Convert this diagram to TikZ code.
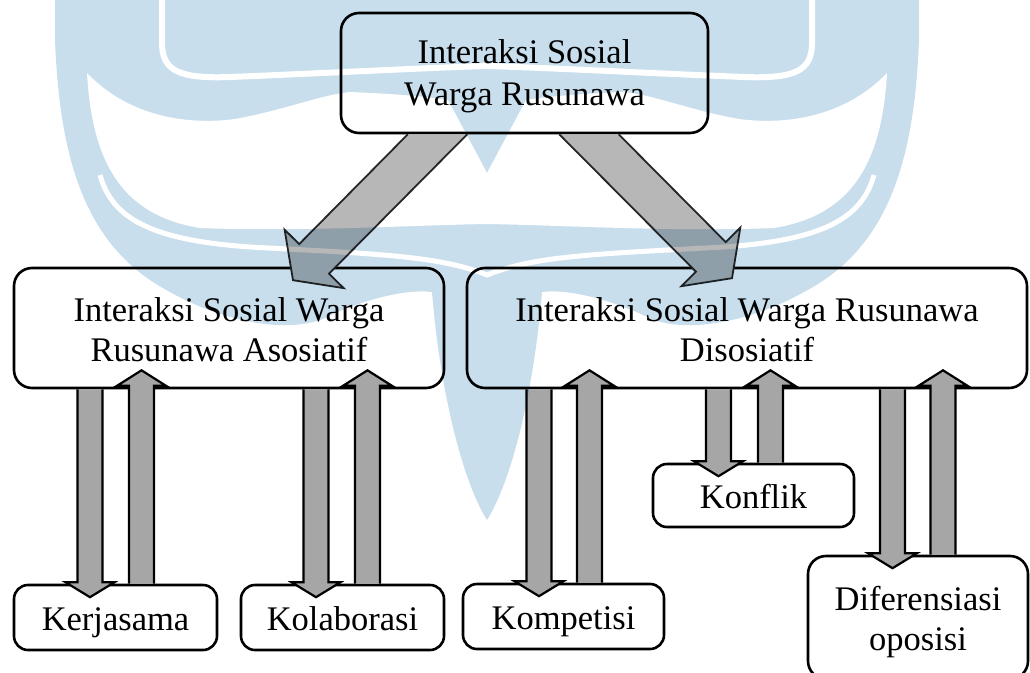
\documentclass[tikz,border=0pt]{standalone}
\usepackage{fontspec}
\setmainfont{Liberation Serif}
\usetikzlibrary{calc}
\definecolor{wm}{RGB}{200,222,237}
\definecolor{vgray}{RGB}{166,166,166}
\definecolor{dgray}{RGB}{183,183,183}
\tikzset{
  box/.style={draw=black, fill=white, line width=2.6pt, rounded corners=18pt,
    align=center, inner sep=0pt, font=\fontsize{34.5}{40}\selectfont},
  smallbox/.style={box, rounded corners=14pt, text height=30pt, text depth=4pt},
  varrow/.style={fill=vgray, draw=black, line width=2.2pt, line join=miter},
  darrow/.style={fill=dgray, draw=black!85, line width=1.8pt, line join=miter},
  wmline/.style={draw=white, line width=6pt},
}
\newcommand\firstline[1]{\rule{0pt}{#1}}
% down block arrow from node #1 (above) to node #2 (below) at x=#3
\newcommand\vdown[3]{%
  \filldraw[varrow] let \p1=(#1.south), \p2=(#2.north) in
    (#3pt-12.5pt,\y1) -- (#3pt-12.5pt,\y2+1.5pt) -- (#3pt-24.5pt,\y2+1.5pt)
    -- (#3pt,\y2-13.5pt) -- (#3pt+24.5pt,\y2+1.5pt) -- (#3pt+12.5pt,\y2+1.5pt)
    -- (#3pt+12.5pt,\y1);}
% up block arrow from node #1 (below) to node #2 (above) at x=#3
\newcommand\vup[3]{%
  \filldraw[varrow] let \p1=(#1.north), \p2=(#2.south) in
    (#3pt-12.5pt,\y1) -- (#3pt-12.5pt,\y2+3.5pt) -- (#3pt-24.5pt,\y2+3.5pt)
    -- (#3pt,\y2+19pt) -- (#3pt+24.5pt,\y2+3.5pt) -- (#3pt+12.5pt,\y2+3.5pt)
    -- (#3pt+12.5pt,\y1);}
% diagonal block arrow from coordinate #1 to tip #2
\newcommand\diagarr[2]{%
  \coordinate (#1b) at ($(#2)!30pt!(#1)$);
  \filldraw[darrow] ([xshift=-29.7pt]#1) -- ($(#1b)!21pt!-90:(#2)$)
    -- ($(#1b)!41.5pt!-90:(#2)$) -- (#2) -- ($(#1b)!41.5pt!90:(#2)$)
    -- ($(#1b)!21pt!90:(#2)$) -- ([xshift=29.7pt]#1);}
\begin{document}
\begin{tikzpicture}[x=1pt,y=-1pt]
\useasboundingbox (0,0) rectangle (1030,672);
\fill[white] (0,0) rectangle (1030,672);

% boxes
\node[box, font=\fontsize{34.5}{42}\selectfont, minimum width=367pt, minimum height=120pt] (top) at (524.5,73) {\firstline{30pt}Interaksi Sosial\\Warga Rusunawa};
\node[box, minimum width=430pt, minimum height=120pt] (asos) at (229,328) {\firstline{28pt}Interaksi Sosial Warga\\Rusunawa Asosiatif};
\node[box, minimum width=560pt, minimum height=120pt] (disos) at (747,328) {\firstline{28pt}Interaksi Sosial Warga Rusunawa\\Disosiatif};
\node[smallbox, minimum width=203pt, minimum height=65pt] (kerja) at (115.5,617.5) {Kerjasama};
\node[smallbox, minimum width=203pt, minimum height=65pt] (kolab) at (342.5,617.5) {Kolaborasi};
\node[smallbox, minimum width=201pt, minimum height=65pt] (kompet) at (563.5,616.5) {Kompetisi};
\node[smallbox, minimum width=201pt, minimum height=63pt, text height=29pt] (konflik) at (753.5,495.5) {Konflik};
\node[box, minimum width=220pt, minimum height=123pt] (difer) at (918,617.5) {\firstline{34pt}Diferensiasi\\oposisi};

% vertical arrows
\vdown{asos}{kerja}{90}
\vup{kerja}{asos}{141.5}
\vdown{asos}{kolab}{316}
\vup{kolab}{asos}{367.5}
\vdown{disos}{kompet}{539}
\vup{kompet}{disos}{589.5}
\vdown{disos}{konflik}{718.5}
\vup{konflik}{disos}{770.5}
\vdown{disos}{difer}{892.5}
\vup{difer}{disos}{943}

% diagonal arrows
\coordinate (sl) at ([xshift=-87pt]top.south);
\coordinate (tl) at ([xshift=64pt,yshift=-13.5pt]asos.north);
\coordinate (sr) at ([xshift=64.5pt]top.south);
\coordinate (tr) at ([xshift=-15pt,yshift=-11.5pt]disos.north);
\diagarr{sl}{tl}
\diagarr{sr}{tr}

% watermark overlay
\begin{scope}[transparency group, blend mode=multiply]
  \fill[wm] (55,-10) -- (55,40) .. controls (60,170) and (90,250) .. (170,292)
    .. controls (220,320) and (285,335) .. (325,318)
    .. controls (350,305) and (400,288) .. (432,292)
    .. controls (440,390) and (462,480) .. (487,520)
    .. controls (512,480) and (534,390) .. (542,292)
    .. controls (574,288) and (624,305) .. (649,318)
    .. controls (689,335) and (754,320) .. (804,292)
    .. controls (884,250) and (914,170) .. (919,40) -- (919,-10) -- cycle;
  \fill[white] (87,73) .. controls (130,118) and (190,125) .. (235,119)
    .. controls (285,110) and (320,95) .. (350,92)
    .. controls (400,94) and (430,97) .. (448,100) -- (487,173) -- (526,100)
    .. controls (544,97) and (574,94) .. (624,92)
    .. controls (654,95) and (689,110) .. (739,119)
    .. controls (784,125) and (844,118) .. (887,73)
    .. controls (882,160) and (854,215) .. (774,228)
    .. controls (674,232) and (554,225) .. (487,224)
    .. controls (420,225) and (300,232) .. (200,228)
    .. controls (120,215) and (92,160) .. (87,73) -- cycle;
  \path[wmline] (162,-10) -- (162,45) .. controls (163,70) and (178,79) .. (230,77)
    .. controls (330,73) and (420,68) .. (487,66)
    .. controls (554,68) and (644,73) .. (744,77)
    .. controls (796,79) and (811,70) .. (812,45) -- (812,-10);
  \path[wmline, line width=5pt] (100,175) .. controls (112,218) and (150,240) .. (250,247)
    .. controls (380,254) and (440,256) .. (487,275)
    .. controls (534,256) and (594,254) .. (724,247)
    .. controls (824,240) and (862,218) .. (874,175);
\end{scope}
\end{tikzpicture}
\end{document}
